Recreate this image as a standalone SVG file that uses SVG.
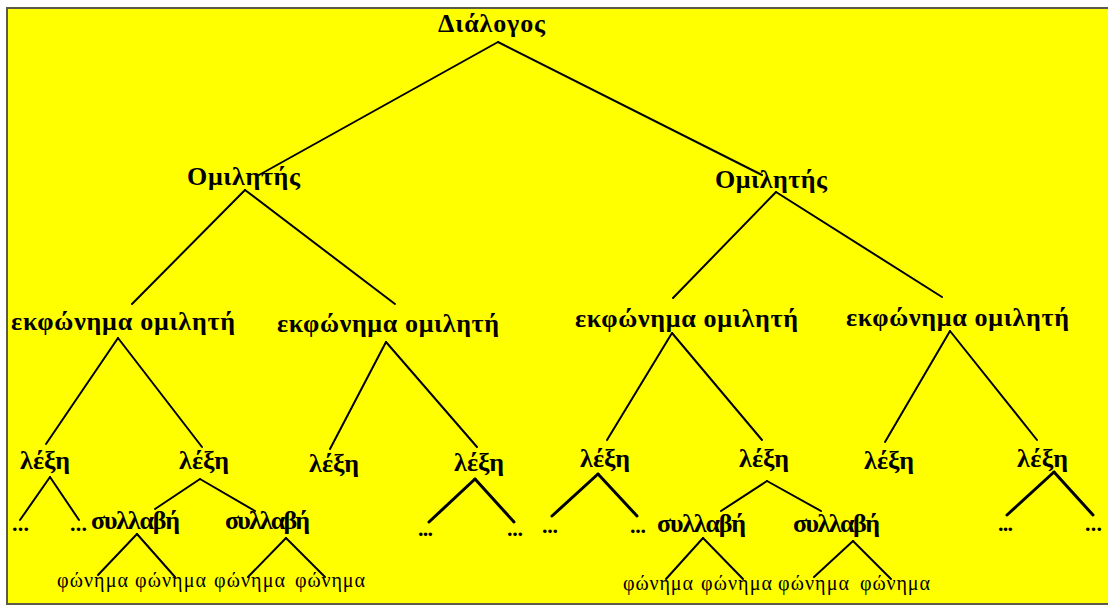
<svg xmlns="http://www.w3.org/2000/svg" width="1108" height="607" viewBox="0 0 1108 607">
<style>
.b{font-family:"Liberation Serif","Times New Roman",serif;font-weight:bold;font-size:26px;fill:#000}
.s{font-family:"Liberation Serif","Times New Roman",serif;font-weight:normal;font-size:20px;fill:#000}
.d{font-family:"Liberation Serif","Times New Roman",serif;font-weight:bold;font-size:22px;fill:#000}
.c line{stroke:#000;stroke-width:2;stroke-linecap:round}
.c line.t{stroke-width:3}
</style>
<rect x="0" y="0" width="1108" height="607" fill="#fff"/>
<rect x="7" y="8" width="1110" height="596" fill="#ffff00" stroke="#5c5a48" stroke-width="2"/>
<g class="c" id="connectors">
<line x1="498" y1="42" x2="259" y2="175"/>
<line x1="498" y1="42" x2="762" y2="175"/>
<line x1="245" y1="190" x2="132" y2="304"/>
<line x1="245" y1="190" x2="395" y2="304"/>
<line x1="776" y1="192" x2="673" y2="298"/>
<line x1="776" y1="192" x2="942" y2="297"/>
<line x1="118" y1="338" x2="46" y2="444"/>
<line x1="118" y1="338" x2="202" y2="447"/>
<line x1="386" y1="342" x2="330" y2="449"/>
<line x1="386" y1="342" x2="477" y2="447"/>
<line x1="672" y1="333" x2="607" y2="440"/>
<line x1="672" y1="333" x2="762" y2="440"/>
<line x1="950" y1="331" x2="885" y2="442"/>
<line x1="950" y1="331" x2="1037" y2="440"/>
<line x1="50" y1="477" x2="20" y2="520"/>
<line x1="50" y1="477" x2="79" y2="520"/>
<line x1="200" y1="479" x2="155" y2="509"/>
<line x1="200" y1="479" x2="255" y2="511"/>
<line class="t" x1="475" y1="479" x2="429" y2="522"/>
<line class="t" x1="475" y1="479" x2="514" y2="522"/>
<line class="t" x1="598" y1="474" x2="552" y2="516"/>
<line class="t" x1="598" y1="474" x2="637" y2="516"/>
<line x1="767" y1="481" x2="721" y2="511"/>
<line x1="767" y1="481" x2="821" y2="511"/>
<line class="t" x1="1054" y1="472" x2="1007" y2="515"/>
<line class="t" x1="1054" y1="472" x2="1093" y2="515"/>
<line x1="137" y1="534" x2="98" y2="575"/>
<line x1="137" y1="534" x2="175" y2="577"/>
<line x1="286" y1="538" x2="248" y2="577"/>
<line x1="286" y1="538" x2="325" y2="577"/>
<line x1="703" y1="538" x2="666" y2="579"/>
<line x1="703" y1="538" x2="743" y2="579"/>
<line x1="853" y1="541" x2="814" y2="577"/>
<line x1="853" y1="541" x2="891" y2="579"/>
</g>
<g id="n-dialogos"><text class="b" x="438" y="32" textLength="107" lengthAdjust="spacing">Διάλογος</text></g>
<g id="n-omilitis-1"><text class="b" x="187" y="185" textLength="113" lengthAdjust="spacing">Ομιλητής</text></g>
<g id="n-omilitis-2"><text class="b" x="715" y="188" textLength="112" lengthAdjust="spacing">Ομιλητής</text></g>
<g id="n-ekf-1"><text class="b" x="11" y="330" textLength="224" lengthAdjust="spacing">εκφώνημα ομιλητή</text></g>
<g id="n-ekf-2"><text class="b" x="277" y="332" textLength="222" lengthAdjust="spacing">εκφώνημα ομιλητή</text></g>
<g id="n-ekf-3"><text class="b" x="575" y="327" textLength="223" lengthAdjust="spacing">εκφώνημα ομιλητή</text></g>
<g id="n-ekf-4"><text class="b" x="846" y="326" textLength="223" lengthAdjust="spacing">εκφώνημα ομιλητή</text></g>
<g id="n-lexi-1"><text class="b" x="20" y="469" textLength="50" lengthAdjust="spacing">λέξη</text></g>
<g id="n-lexi-2"><text class="b" x="179" y="469" textLength="50" lengthAdjust="spacing">λέξη</text></g>
<g id="n-lexi-3"><text class="b" x="309" y="472" textLength="50" lengthAdjust="spacing">λέξη</text></g>
<g id="n-lexi-4"><text class="b" x="454" y="471" textLength="50" lengthAdjust="spacing">λέξη</text></g>
<g id="n-lexi-5"><text class="b" x="580" y="467" textLength="50" lengthAdjust="spacing">λέξη</text></g>
<g id="n-lexi-6"><text class="b" x="739" y="467" textLength="50" lengthAdjust="spacing">λέξη</text></g>
<g id="n-lexi-7"><text class="b" x="864" y="469" textLength="50" lengthAdjust="spacing">λέξη</text></g>
<g id="n-lexi-8"><text class="b" x="1017" y="467" textLength="51" lengthAdjust="spacing">λέξη</text></g>
<g id="n-dots-1"><text class="d" x="12" y="531" textLength="17" lengthAdjust="spacing">...</text></g>
<g id="n-dots-2"><text class="d" x="70" y="531" textLength="17" lengthAdjust="spacing">...</text></g>
<g id="n-dots-3"><text class="d" x="418" y="536" textLength="15" lengthAdjust="spacing">...</text></g>
<g id="n-dots-4"><text class="d" x="507" y="536" textLength="16" lengthAdjust="spacing">...</text></g>
<g id="n-dots-5"><text class="d" x="542" y="533" textLength="16" lengthAdjust="spacing">...</text></g>
<g id="n-dots-6"><text class="d" x="630" y="533" textLength="16" lengthAdjust="spacing">...</text></g>
<g id="n-dots-7"><text class="d" x="998" y="531" textLength="15" lengthAdjust="spacing">...</text></g>
<g id="n-dots-8"><text class="d" x="1085" y="531" textLength="17" lengthAdjust="spacing">...</text></g>
<g id="n-syl-1"><text class="b" x="91" y="529" textLength="89" lengthAdjust="spacing">συλλαβή</text></g>
<g id="n-syl-2"><text class="b" x="225" y="529" textLength="85" lengthAdjust="spacing">συλλαβή</text></g>
<g id="n-syl-3"><text class="b" x="657" y="532" textLength="89" lengthAdjust="spacing">συλλαβή</text></g>
<g id="n-syl-4"><text class="b" x="793" y="532" textLength="87" lengthAdjust="spacing">συλλαβή</text></g>
<g id="n-fon-1"><text class="s" x="57" y="587" textLength="71" lengthAdjust="spacing">φώνημα</text></g>
<g id="n-fon-2"><text class="s" x="135" y="587" textLength="71" lengthAdjust="spacing">φώνημα</text></g>
<g id="n-fon-3"><text class="s" x="214" y="587" textLength="71" lengthAdjust="spacing">φώνημα</text></g>
<g id="n-fon-4"><text class="s" x="295" y="587" textLength="70" lengthAdjust="spacing">φώνημα</text></g>
<g id="n-fon-5"><text class="s" x="623" y="590" textLength="70" lengthAdjust="spacing">φώνημα</text></g>
<g id="n-fon-6"><text class="s" x="701" y="590" textLength="71" lengthAdjust="spacing">φώνημα</text></g>
<g id="n-fon-7"><text class="s" x="778" y="590" textLength="71" lengthAdjust="spacing">φώνημα</text></g>
<g id="n-fon-8"><text class="s" x="860" y="590" textLength="70" lengthAdjust="spacing">φώνημα</text></g>
</svg>
